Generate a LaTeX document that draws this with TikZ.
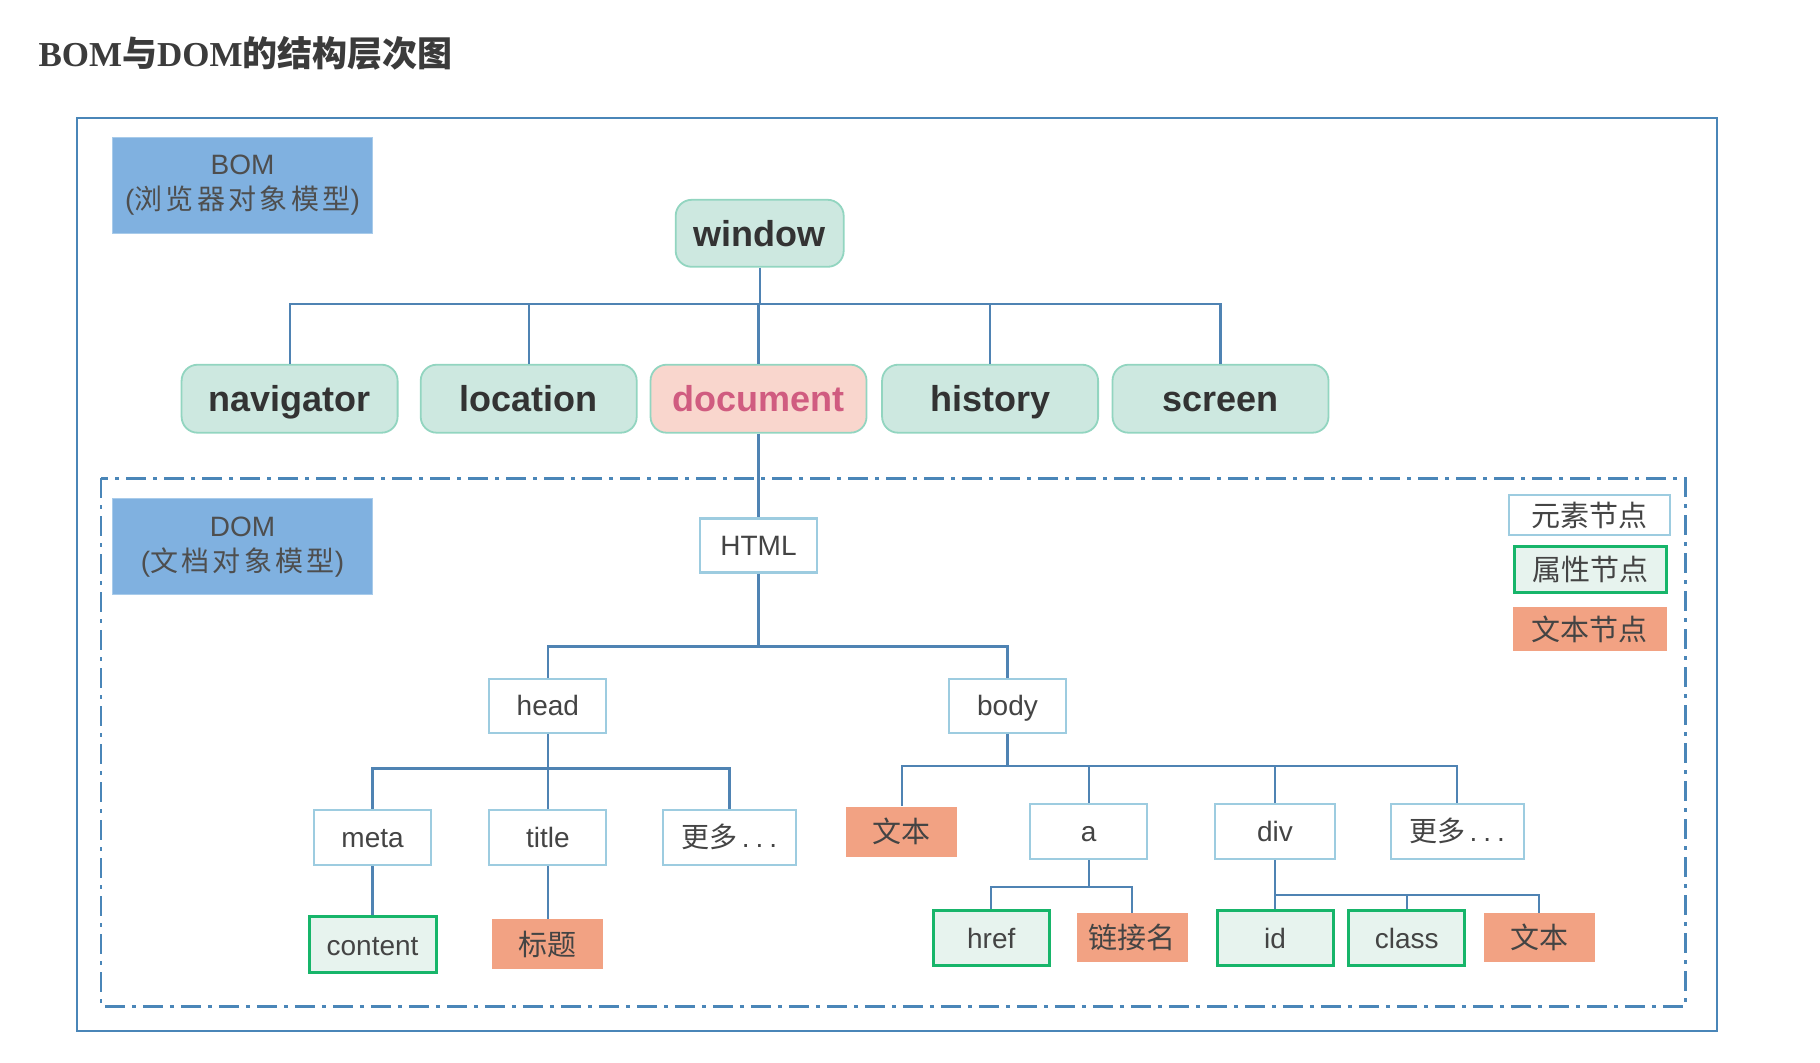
\documentclass[tikz,border=0pt]{standalone}
\usepackage{fontspec}
\setmainfont{Liberation Sans}
\newfontfamily\seriffont{Liberation Serif}
\newfontfamily\cjk{Noto Sans CJK SC}
\newfontfamily\cjksp[LetterSpace=12]{Noto Sans CJK SC}
\definecolor{outerblue}{HTML}{4A86B8}
\definecolor{linec}{HTML}{4F83B3}
\definecolor{nodefill}{HTML}{CDE8E0}
\definecolor{nodeedge}{HTML}{92D5C0}
\definecolor{docfill}{HTML}{F9D6CD}
\definecolor{doctxt}{HTML}{D05C80}
\definecolor{lblfill}{HTML}{80B1E0}
\definecolor{lbledge}{HTML}{A8CBEA}
\definecolor{lbltxt}{HTML}{4E4E4E}
\definecolor{elemedge}{HTML}{9DCCE0}
\definecolor{attredge}{HTML}{17B56A}
\definecolor{attrfill}{HTML}{E7F3EE}
\definecolor{textfill}{HTML}{F2A283}
\definecolor{txtA}{HTML}{333333}
\definecolor{txtB}{HTML}{444444}
\definecolor{titletxt}{HTML}{3B3B3B}
\newcommand{\moredots}{{\cjk 更多}\hspace{4pt}.\hspace{6pt}.\hspace{6pt}.}
\begin{document}
\begin{tikzpicture}[x=1.1607pt,y=-1.1607pt,
  bomnode/.style={draw=nodeedge, fill=nodefill, rounded corners=16pt, line width=1.8pt,
    minimum width=216pt, minimum height=68pt, inner sep=0pt,
    text height=26pt, text depth=0pt,
    font=\fontsize{36}{40}\selectfont\bfseries, text=txtA},
  labelbox/.style={fill=lblfill, draw=lbledge, line width=1pt, minimum width=260pt,
    minimum height=96pt, inner sep=0pt, align=center,
    font=\fontsize{28}{35}\selectfont, text=lbltxt},
  elem/.style={draw=elemedge, fill=white, line width=2.2pt, minimum width=117pt,
    minimum height=54pt, inner sep=0pt, text height=21pt, text depth=0.5pt,
    font=\fontsize{28}{32}\selectfont, text=txtB},
  attr/.style={draw=attredge, fill=attrfill, line width=3pt, minimum width=116pt,
    minimum height=55pt, inner sep=0pt, text height=21pt, text depth=0.5pt,
    font=\fontsize{28}{32}\selectfont, text=txtB},
  textn/.style={fill=textfill, minimum width=111pt, minimum height=50pt, inner sep=0pt,
    text height=25.5pt, text depth=3.5pt,
    font=\cjk\fontsize{29}{32}\selectfont, text=txtB},
  cjklegend/.style={text height=25.5pt, text depth=3.5pt, font=\cjk\fontsize{29}{32}\selectfont},
  conn/.style={draw=linec, line width=2.2pt},
  outerbox/.style={draw=outerblue, line width=2.2pt},
  dombox/.style={draw=outerblue, line width=2.8pt, dash pattern=on 20pt off 7pt on 4pt off 7pt}
]
\useasboundingbox (0,0) rectangle (1568,915);

% title
\node[anchor=west, inner sep=0pt, text=titletxt, font=\fontsize{35}{40}\selectfont\bfseries] (title0) at (33,46)
  {{\seriffont BOM}{\cjk 与}{\seriffont DOM}{\cjk 的结构层次图}};

% frames
\draw[outerbox] (66,102) rectangle (1479,888);
\draw[dombox] (87,412) rectangle (1452,867);

% labels
\node[labelbox] (bom) at (209,159.5) {BOM\\({\cjksp 浏览器对象模型})};
\node[labelbox] (dom) at (209,471) {DOM\\({\cjksp 文档对象模型})};

% BOM level
\node[bomnode, minimum width=168pt, minimum height=67pt] (window) at (654.5,201) {window};
\node[bomnode] (nav) at (249.5,343.5) {navigator};
\node[bomnode] (loc) at (455.5,343.5) {location};
\node[bomnode, fill=docfill, text=doctxt] (doc) at (653.5,343.5) {document};
\node[bomnode] (his) at (853,343.5) {history};
\node[bomnode] (scr) at (1051.5,343.5) {screen};

\coordinate (b1) at (0,262);
\draw[conn] (window.south) -- (window.south |- b1);
\foreach \n in {nav,loc,doc,his,scr} \draw[conn] (window.south |- b1) -| (\n.north);

% DOM
\node[elem] (html) at (653.5,470) {HTML};
\draw[conn] (doc.south) -- (html.north);

\node[elem] (head) at (472,608) {head};
\node[elem] (body) at (868,608) {body};
\coordinate (b2) at (0,557);
\draw[conn] (html.south) -- (html.south |- b2);
\foreach \n in {head,body} \draw[conn] (html.south |- b2) -| (\n.north);

% head children
\node[elem, minimum height=55pt] (meta) at (321,721.5) {meta};
\node[elem, minimum height=55pt] (titlen) at (472,721.5) {title};
\node[elem, minimum width=133pt, minimum height=55pt] (more1) at (628.5,721.5) {\moredots};
\coordinate (b3) at (0,662);
\draw[conn] (head.south) -- (head.south |- b3);
\foreach \n in {meta,titlen,more1} \draw[conn] (head.south |- b3) -| (\n.north);

\node[attr, minimum width=127pt, minimum height=56pt] (content) at (321,814) {content};
\node[textn] (biaoti) at (472,813.5) {标题};
\draw[conn] (meta.south) -- (content.north);
\draw[conn] (titlen.south) -- (biaoti.north);

% body children
\node[textn] (wb1) at (777,716.5) {文本};
\node[elem, minimum height=55pt] (a) at (938,716.5) {a};
\node[elem, minimum width=120pt, minimum height=55pt] (div) at (1098.5,716.5) {div};
\node[elem, minimum width=133pt, minimum height=55pt] (more2) at (1255.5,716.5) {\moredots};
\coordinate (b4) at (0,660);
\draw[conn] (body.south) -- (body.south |- b4);
\foreach \n in {wb1,a,div,more2} \draw[conn] (body.south |- b4) -| (\n.north);

% a children
\node[attr] (href) at (854,808.5) {href};
\node[textn, minimum height=49pt] (link) at (975.5,808) {链接名};
\coordinate (b5) at (0,764);
\draw[conn] (a.south) -- (a.south |- b5);
\foreach \n in {href,link} \draw[conn] (a.south |- b5) -| (\n.north);

% div children
\node[attr] (id) at (1098.5,808.5) {id};
\node[attr] (class) at (1212,808.5) {class};
\node[textn, minimum height=49pt] (wb2) at (1326,808) {文本};
\coordinate (b6) at (0,771);
\draw[conn] (div.south) -- (div.south |- b6);
\foreach \n in {id,class,wb2} \draw[conn] (div.south |- b6) -| (\n.north);

% legend
\node[elem, minimum width=161pt, minimum height=40pt, cjklegend] (lg1) at (1369.5,444) {元素节点};
\node[attr, minimum width=152pt, minimum height=46pt, cjklegend] (lg2) at (1370.5,491) {属性节点};
\node[textn, minimum width=154pt, minimum height=44pt] (lg3) at (1369.5,542) {文本节点};
\end{tikzpicture}
\end{document}
